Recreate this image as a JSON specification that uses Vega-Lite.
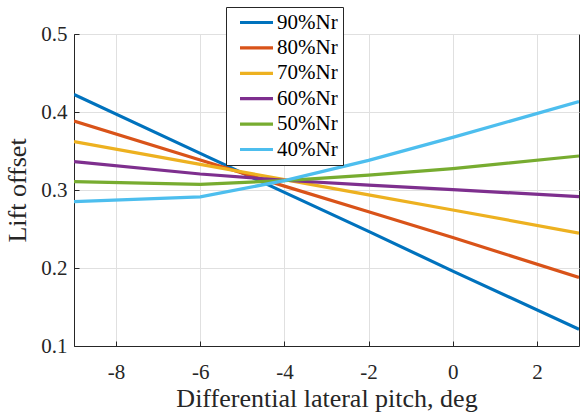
{
  "$schema": "https://vega.github.io/schema/vega-lite/v6.json",
  "width": 505,
  "height": 312,
  "autosize": {"type": "none"},
  "padding": {"left": 74, "top": 34, "right": 1, "bottom": 68},
  "background": "white",
  "config": {
    "font": "Liberation Serif",
    "view": {"stroke": "#262626", "strokeWidth": 1},
    "axis": {
      "domainColor": "#262626",
      "tickColor": "#262626",
      "labelColor": "#262626",
      "titleColor": "#262626",
      "gridColor": "#e0e0e0",
      "tickSize": -5,
      "labelFontSize": 21,
      "titleFontSize": 26,
      "titleFontWeight": "normal"
    }
  },
  "data": {
    "values": [
      {"pitch": -9, "lift": 0.4225, "series": "90%Nr"},
      {"pitch": -6, "lift": 0.347, "series": "90%Nr"},
      {"pitch": -4, "lift": 0.297, "series": "90%Nr"},
      {"pitch": -2, "lift": 0.247, "series": "90%Nr"},
      {"pitch": 0, "lift": 0.196, "series": "90%Nr"},
      {"pitch": 3, "lift": 0.1215, "series": "90%Nr"},
      {"pitch": -9, "lift": 0.3885, "series": "80%Nr"},
      {"pitch": -6, "lift": 0.3385, "series": "80%Nr"},
      {"pitch": -4, "lift": 0.305, "series": "80%Nr"},
      {"pitch": -2, "lift": 0.272, "series": "80%Nr"},
      {"pitch": 0, "lift": 0.239, "series": "80%Nr"},
      {"pitch": 3, "lift": 0.188, "series": "80%Nr"},
      {"pitch": -9, "lift": 0.362, "series": "70%Nr"},
      {"pitch": -6, "lift": 0.3328, "series": "70%Nr"},
      {"pitch": -4, "lift": 0.3133, "series": "70%Nr"},
      {"pitch": -2, "lift": 0.2938, "series": "70%Nr"},
      {"pitch": 0, "lift": 0.2743, "series": "70%Nr"},
      {"pitch": 3, "lift": 0.2448, "series": "70%Nr"},
      {"pitch": -9, "lift": 0.3363, "series": "60%Nr"},
      {"pitch": -6, "lift": 0.3205, "series": "60%Nr"},
      {"pitch": -4, "lift": 0.3125, "series": "60%Nr"},
      {"pitch": -2, "lift": 0.3062, "series": "60%Nr"},
      {"pitch": 0, "lift": 0.3005, "series": "60%Nr"},
      {"pitch": 3, "lift": 0.2915, "series": "60%Nr"},
      {"pitch": -9, "lift": 0.3107, "series": "50%Nr"},
      {"pitch": -6, "lift": 0.3073, "series": "50%Nr"},
      {"pitch": -4, "lift": 0.312, "series": "50%Nr"},
      {"pitch": -2, "lift": 0.319, "series": "50%Nr"},
      {"pitch": 0, "lift": 0.3275, "series": "50%Nr"},
      {"pitch": 3, "lift": 0.3436, "series": "50%Nr"},
      {"pitch": -9, "lift": 0.285, "series": "40%Nr"},
      {"pitch": -6, "lift": 0.2912, "series": "40%Nr"},
      {"pitch": -4, "lift": 0.312, "series": "40%Nr"},
      {"pitch": -2, "lift": 0.338, "series": "40%Nr"},
      {"pitch": 0, "lift": 0.3675, "series": "40%Nr"},
      {"pitch": 3, "lift": 0.4133, "series": "40%Nr"}
    ]
  },
  "mark": {"type": "line", "strokeWidth": 3.2, "clip": true},
  "encoding": {
    "x": {
      "field": "pitch",
      "type": "quantitative",
      "scale": {"domain": [-9, 3], "nice": false, "zero": false},
      "axis": {"title": "Differential lateral pitch, deg", "values": [-8, -6, -4, -2, 0, 2], "labelExpr": "'' + datum.value", "labelPadding": 20, "titlePadding": 3}
    },
    "y": {
      "field": "lift",
      "type": "quantitative",
      "scale": {"domain": [0.1, 0.5], "nice": false, "zero": false},
      "axis": {"title": "Lift offset", "values": [0.1, 0.2, 0.3, 0.4, 0.5], "format": ".1f", "labelPadding": 12, "titlePadding": 10}
    },
    "color": {
      "field": "series",
      "type": "nominal",
      "sort": null,
      "scale": {
        "domain": ["90%Nr", "80%Nr", "70%Nr", "60%Nr", "50%Nr", "40%Nr"],
        "range": ["#0072BD", "#D95319", "#EDB120", "#7E2F8E", "#77AC30", "#4DBEEE"]
      },
      "legend": {
        "orient": "none",
        "legendX": 152,
        "legendY": -27,
        "title": null,
        "strokeColor": "#262626",
        "fillColor": "white",
        "padding": 5,
        "symbolType": "M-2,0H2",
        "symbolSize": 272,
        "symbolStrokeWidth": 3.2,
        "symbolOffset": 15,
        "labelOffset": 10,
        "labelFontSize": 21,
        "labelColor": "#000000",
        "rowPadding": 3.4
      }
    }
  }
}
